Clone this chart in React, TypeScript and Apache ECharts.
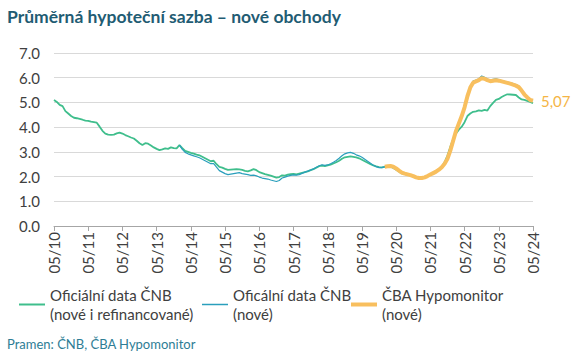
import React, { useEffect, useRef } from "react";
import * as echarts from "echarts";

// Monthly observations, 05/2010 – 05/2024
const startYear = 2010;
const startMonth = 5;
const monthCount = 169;

const yTicks = [0, 1, 2, 3, 4, 5, 6, 7];

// Oficiální data ČNB (nové i refinancované), from 05/2010
const cnbAll = [
  5.1, 5.02, 4.9, 4.85, 4.65, 4.55, 4.45, 4.38, 4.36, 4.33, 4.3, 4.26,
  4.25, 4.22, 4.2, 4.18, 4.02, 3.85, 3.74, 3.7, 3.69, 3.7, 3.75, 3.78,
  3.74, 3.68, 3.63, 3.58, 3.54, 3.45, 3.35, 3.28, 3.35, 3.33, 3.26, 3.18,
  3.12, 3.07, 3.1, 3.14, 3.12, 3.18, 3.15, 3.14, 3.27, 3.15, 3.04, 3.0,
  2.96, 2.93, 2.89, 2.86, 2.8, 2.74, 2.68, 2.62, 2.64, 2.5, 2.39, 2.36,
  2.31, 2.27, 2.28, 2.29, 2.3, 2.29, 2.27, 2.23, 2.21, 2.25, 2.3, 2.26,
  2.18, 2.14, 2.1, 2.07, 2.04, 2.0, 1.96, 1.98, 2.05, 2.04, 2.08, 2.1,
  2.11, 2.09, 2.12, 2.15, 2.18, 2.21, 2.26, 2.3, 2.36, 2.42, 2.44, 2.42,
  2.45, 2.48, 2.53, 2.58, 2.64, 2.72, 2.78, 2.8, 2.82, 2.8, 2.78, 2.74,
  2.68, 2.62, 2.56, 2.5, 2.45, 2.41, 2.38, 2.37, 2.39, 2.42, 2.4, 2.35,
  2.28, 2.2, 2.13, 2.1, 2.08, 2.04, 2.0, 1.96, 1.93, 1.95, 1.98, 2.03,
  2.08, 2.15, 2.21, 2.3, 2.4, 2.58, 2.85, 3.2, 3.52, 3.74, 3.9, 4.02,
  4.2, 4.45, 4.55, 4.62, 4.64, 4.68, 4.66, 4.7, 4.67, 4.85, 4.98, 5.1,
  5.14, 5.22, 5.28, 5.33, 5.32, 5.31, 5.3, 5.2, 5.12, 5.1, 5.06, 5.02,
  4.97,
];

// Oficální data ČNB (nové), from 01/2014
const cnbNewStart = 44;
const cnbNew = [
  3.27, 3.1, 2.98, 2.92, 2.88, 2.84, 2.8, 2.76, 2.7, 2.64, 2.58, 2.52,
  2.52, 2.38, 2.24, 2.18, 2.12, 2.08, 2.1, 2.12, 2.14, 2.16, 2.12, 2.1,
  2.08, 2.05, 2.06, 2.03, 1.98, 1.94, 1.92, 1.9, 1.86, 1.83, 1.8, 1.84,
  1.94, 1.98, 2.02, 2.05, 2.07, 2.06, 2.08, 2.13, 2.18, 2.22, 2.26, 2.31,
  2.38, 2.44, 2.48, 2.45, 2.47, 2.52, 2.58, 2.65, 2.74, 2.84, 2.92, 2.96,
  2.98, 2.94, 2.88, 2.84, 2.78, 2.7, 2.62, 2.54, 2.46, 2.4, 2.36, 2.36,
  2.4, 2.42, 2.42, 2.38, 2.3, 2.22, 2.15, 2.11, 2.08, 2.05, 2.01, 1.96,
  1.93, 1.94, 1.97, 2.02, 2.08, 2.14, 2.21, 2.29, 2.39, 2.55, 2.78, 3.12,
  3.5, 3.88, 4.18, 4.48, 4.85, 5.3, 5.66, 5.86, 5.9, 5.96, 6.07, 6.02,
  5.95, 5.9, 5.93, 5.95, 5.92, 5.88, 5.85, 5.82, 5.8, 5.76, 5.72, 5.66,
  5.52, 5.36, 5.22, 5.12, 5.08,
];

// ČBA Hypomonitor (nové), from 01/2020
const cbaStart = 116;
const cba = [
  2.4, 2.42, 2.43, 2.4, 2.33, 2.24, 2.16, 2.12, 2.09, 2.06, 2.02, 1.97,
  1.94, 1.94, 1.97, 2.02, 2.08, 2.14, 2.2, 2.28, 2.38, 2.52, 2.72, 3.05,
  3.45, 3.85, 4.15, 4.45, 4.8, 5.25, 5.6, 5.8, 5.85, 5.9, 5.98, 5.96,
  5.9, 5.86, 5.88, 5.9, 5.88, 5.85, 5.82, 5.79, 5.76, 5.72, 5.68, 5.62,
  5.48, 5.32, 5.2, 5.1, 5.07,
];

const seriesNames = [
  "Oficiální data ČNB\n(nové i refinancované)",
  "Oficální data ČNB\n(nové)",
  "ČBA Hypomonitor\n(nové)",
];

const COLORS = ["#3FBE8C", "#2A9FBC", "#F8BF5E"];

const FONT = "Lato, 'Noto Sans', sans-serif";

function buildMonths(): string[] {
  const out: string[] = [];
  for (let i = 0; i < monthCount; i++) {
    const t = startYear * 12 + (startMonth - 1) + i;
    const y = Math.floor(t / 12);
    const m = (t % 12) + 1;
    out.push(String(m).padStart(2, "0") + "/" + String(y % 100).padStart(2, "0"));
  }
  return out;
}

function pad(start: number, arr: number[]): (number | null)[] {
  const out: (number | null)[] = [];
  for (let i = 0; i < start; i++) out.push(null);
  return out.concat(arr);
}

export default function App() {
  const ref = useRef<HTMLDivElement>(null);
  useEffect(() => {
    if (!ref.current) return;
    const chart = echarts.init(ref.current, undefined, { renderer: "svg" });
    const months = buildMonths();
    const legendText = {
      fontFamily: FONT,
      fontSize: 15,
      color: "#404040",
      lineHeight: 19,
      padding: [19, 0, 0, 0],
    };
    const mkLegend = (name: string, left: number, h: number) => ({
      data: [name],
      left,
      top: 276,
      padding: 0,
      icon: "rect",
      itemWidth: 26,
      itemHeight: h,
      itemGap: 4,
      textStyle: legendText,
    });
    chart.setOption({
      animation: false,
      backgroundColor: "#ffffff",
      title: [
        {
          text: "Průměrná hypoteční sazba – nové obchody",
          left: 7,
          top: 7,
          padding: 0,
          textStyle: { fontFamily: FONT, fontSize: 17.5, fontWeight: "bold", color: "#1F5C73" },
        },
        {
          text: "Pramen: ČNB, ČBA Hypomonitor",
          left: 7,
          top: 337,
          padding: 0,
          textStyle: { fontFamily: FONT, fontSize: 13, fontWeight: "normal", color: "#2E7D95" },
        },
      ],
      legend: [
        mkLegend(seriesNames[0], 19, 2),
        mkLegend(seriesNames[1], 202, 1.5),
        mkLegend(seriesNames[2], 351, 4),
      ],
      grid: { left: 54, right: 44, top: 53, bottom: 134 },
      xAxis: {
        type: "category",
        data: months,
        boundaryGap: false,
        axisLine: { lineStyle: { color: "#A6A6A6", width: 1 } },
        axisTick: { interval: 11, length: 5, lineStyle: { color: "#A6A6A6" } },
        axisLabel: {
          interval: 11,
          rotate: 90,
          margin: 6,
          fontFamily: FONT,
          fontSize: 15,
          color: "#404040",
        },
        splitLine: { show: false },
      },
      yAxis: {
        type: "value",
        min: yTicks[0],
        max: yTicks[yTicks.length - 1],
        interval: 1,
        axisLine: { show: false },
        axisTick: { show: false },
        axisLabel: {
          margin: 14,
          fontFamily: FONT,
          fontSize: 15,
          color: "#404040",
          formatter: (v: number) => v.toFixed(1),
        },
        splitLine: { lineStyle: { color: "#D9D9D9", width: 1 } },
      },
      series: [
        {
          name: seriesNames[0],
          type: "line",
          data: cnbAll,
          symbol: "none",
          lineStyle: { color: COLORS[0], width: 1.8 },
          itemStyle: { color: COLORS[0] },
          z: 2,
        },
        {
          name: seriesNames[1],
          type: "line",
          data: pad(cnbNewStart, cnbNew),
          symbol: "none",
          lineStyle: { color: COLORS[1], width: 1.2 },
          itemStyle: { color: COLORS[1] },
          z: 3,
        },
        {
          name: seriesNames[2],
          type: "line",
          data: pad(cbaStart, cba),
          symbol: "none",
          lineStyle: { color: COLORS[2], width: 4 },
          itemStyle: { color: COLORS[2] },
          z: 4,
          endLabel: {
            show: true,
            distance: 8,
            fontFamily: FONT,
            fontSize: 15,
            color: "#F5B545",
            formatter: (p: any) => Number(p.value).toFixed(2).replace(".", ","),
          },
        },
      ],
    });
    return () => chart.dispose();
  }, []);
  return (
    <div
      ref={ref}
      style={{ position: "absolute", left: 0, top: 0, width: 577, height: 360 }}
    />
  );
}
